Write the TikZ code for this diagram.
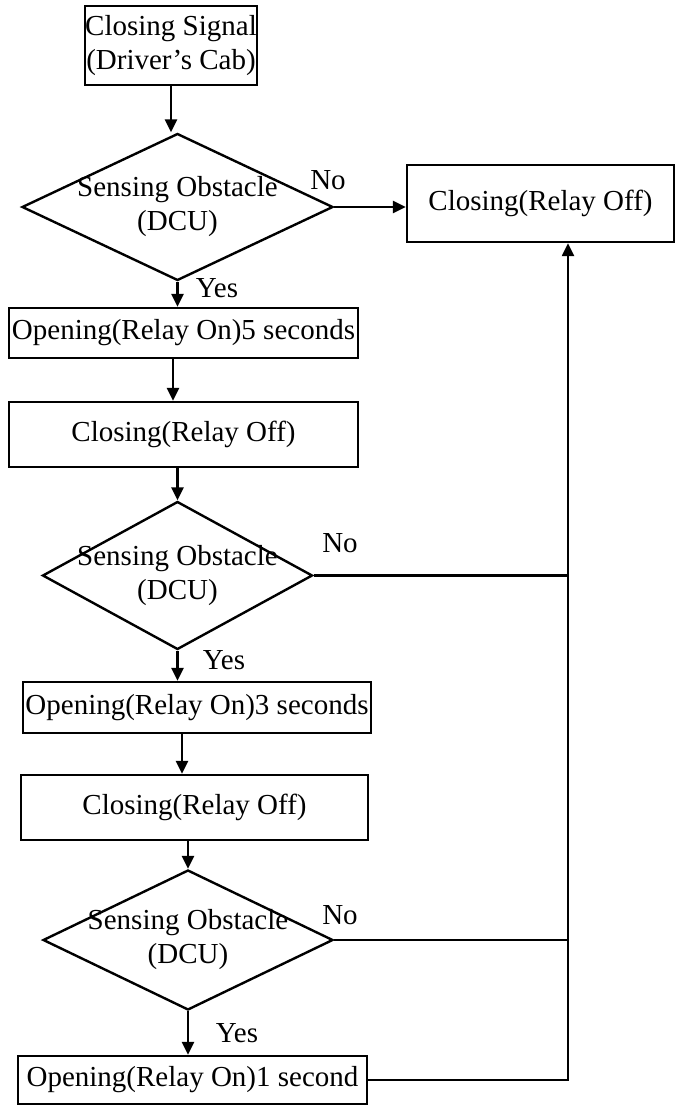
\documentclass[tikz,border=0pt]{standalone}
\usepackage{fontspec}
\setmainfont{Liberation Serif}
\usetikzlibrary{arrows.meta, shapes.geometric}
\tikzset{
  every picture/.style={font=\fontsize{29}{34}\selectfont, line width=2.4pt},
  box/.style={draw, rectangle, align=center, inner sep=0pt, minimum width=#1},
  box/.default=350pt,
  dec/.style={draw, diamond, inner sep=0pt, minimum width=#1},
  dec/.default=300pt,
  txt/.style={align=center, inner sep=0pt},
  lab/.style={inner sep=0pt},
  arrow/.style={-{Triangle[length=13pt, width=12pt]}},
}

\begin{document}
\begin{tikzpicture}[x=1pt, y=-1pt]
\useasboundingbox (0,0) rectangle (676,1106);
% first check
\node[box=172pt, minimum height=79pt] (b1) at (171,45.5) {Closing Signal\\(Driver’s Cab)};
\node[dec=311pt, minimum height=147pt] (d1) at (177.5,207) {};
\node[txt] (d1t) at (d1) {Sensing Obstacle\\(DCU)};
\node[box=267pt, minimum height=77pt] (r1) at (540.5,203.5) {Closing(Relay Off)};
\node[box=349pt, minimum height=50pt] (b2) at (183.5,333) {Opening(Relay On)5 seconds};
\node[box=349pt, minimum height=65pt] (b3) at (183.5,434.5) {Closing(Relay Off)};
\node[lab] (y1) at (217,288) {Yes};
\node[lab] (n1) at (328,180) {No};
% second check
\node[dec=270pt, minimum height=148pt] (d2) at (177.5,575.5) {};
\node[txt] (d2t) at (d2) {Sensing Obstacle\\(DCU)};
\node[box=348pt, minimum height=51pt] (b4) at (197,707.5) {Opening(Relay On)3 seconds};
\node[box=347pt, minimum height=65pt] (b5) at (194.5,807.5) {Closing(Relay Off)};
\node[lab] (y2) at (224,660) {Yes};
\node[lab] (n2) at (340,543) {No};
% third check
\node[dec=290pt, minimum height=140pt] (d3) at (188,940) {};
\node[txt] (d3t) at (d3) {Sensing Obstacle\\(DCU)};
\node[box=349pt, minimum height=48pt] (b6) at (192.5,1080) {Opening(Relay On)1 second};
\node[lab] (y3) at (237,1033) {Yes};
\node[lab] (n3) at (340,915) {No};
\coordinate (bus) at (568,1080);
\coordinate (c2) at (173,0);
\coordinate (c4) at (182,0);
% main flow
\draw[arrow] (b1.south) -- (b1.south |- d1.north);
\draw[arrow] (d1.east) -- (r1.west |- d1.east);
\draw[arrow] (d1.south) -- (d1.south |- b2.north);
\draw[arrow] (c2 |- b2.south) -- (c2 |- b3.north);
\draw[arrow] (b3.south -| d2.north) -- (d2.north);
\draw[arrow] (d2.south) -- (d2.south |- b4.north);
\draw[arrow] (c4 |- b4.south) -- (c4 |- b5.north);
\draw[arrow] (b5.south -| d3.north) -- (d3.north);
\draw[arrow] (d3.south) -- (d3.south |- b6.north);
% back to closing
\draw (d2.east) -- (d2.east -| bus);
\draw (d3.east) -- (d3.east -| bus);
\draw[arrow] (b6.east) -- (bus) -- (bus |- r1.south);
\end{tikzpicture}
\end{document}
